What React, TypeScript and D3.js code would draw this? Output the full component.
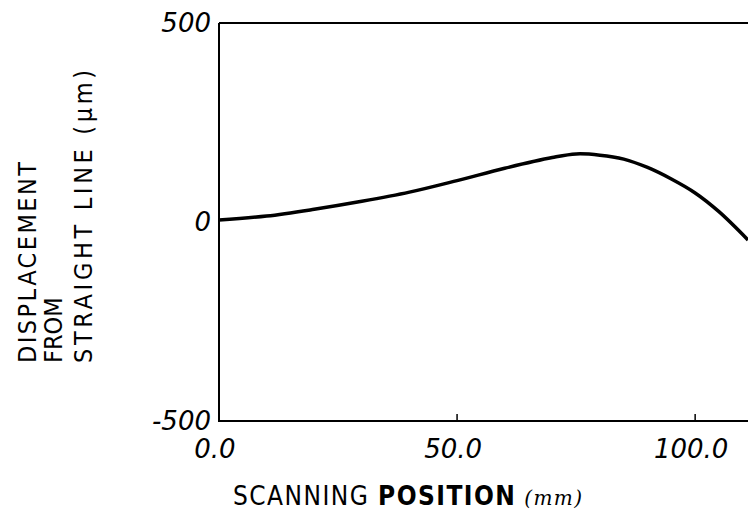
import React from "react";
import * as d3 from "d3";

const positions = [0, 10, 20, 30, 40, 50, 60, 70, 75, 80, 85, 90, 95, 100, 105, 111.1];
const displacement = [5, 15, 32, 52, 75, 104, 135, 162, 171, 168, 158, 137, 108, 73, 26, -45];
const xTicks = [0, 50, 100];
const xTickLabels = ["0.0", "50.0", "100.0"];
const yTicks = [500, 0, -500];
const yTickLabels = ["500", "0", "-500"];
const yTitleLines = ["DISPLACEMENT", "FROM", "STRAIGHT LINE (\u00b5m)"];
const xTitle = ["SCANNING ", "POSITION", " (mm)"];

const W = 748;
const H = 513;
const left = 219;
const top = 23;
const bottom = 421;

export default function App() {
  const x = d3.scaleLinear().domain([0, 111.1]).range([left, W]);
  const y = d3.scaleLinear().domain([-500, 500]).range([bottom, top]);
  const pts = positions.map((p, i) => [p, displacement[i]] as [number, number]);
  const line = d3
    .line<[number, number]>()
    .x((d) => x(d[0]))
    .y((d) => y(d[1]))
    .curve(d3.curveCatmullRom.alpha(0.5));

  const digitFont = "'DejaVu Sans', sans-serif";
  const labelFont = "'DejaVu Sans Condensed', 'DejaVu Sans', sans-serif";
  const yBaselines = [36, 62, 92];
  const yLens: (number | undefined)[] = [201, undefined, 293];

  return (
    <svg
      width={W}
      height={H}
      style={{ position: "absolute", left: 0, top: 0, background: "#fff" }}
    >
      <rect x={0} y={0} width={W} height={H} fill="#fff" />
      {/* frame */}
      <line x1={x(0)} y1={y(500)} x2={W} y2={y(500)} stroke="#000" strokeWidth={2} />
      <line x1={x(0)} y1={y(500)} x2={x(0)} y2={y(-500)} stroke="#000" strokeWidth={2} />
      <line x1={x(0) - 1} y1={y(-500)} x2={W} y2={y(-500)} stroke="#000" strokeWidth={2} />
      {/* x ticks */}
      {xTicks.map((t, i) => (
        <g key={"xt" + i}>
          {t !== 0 && (
            <line x1={x(t)} x2={x(t)} y1={y(-500)} y2={y(-500) - 7} stroke="#000" strokeWidth={1.5} />
          )}
          <text
            x={x(t) - 4}
            y={458}
            textAnchor="middle"
            fontFamily={digitFont}
            fontStyle="italic"
            fontSize={26}
            fill="#000"
          >
            {xTickLabels[i]}
          </text>
        </g>
      ))}
      {/* y tick labels */}
      {yTicks.map((t, i) => (
        <text
          key={"yt" + i}
          x={211}
          y={y(t) + 9}
          textAnchor="end"
          fontFamily={digitFont}
          fontStyle="italic"
          fontSize={26}
          fill="#000"
        >
          {yTickLabels[i]}
        </text>
      ))}
      {/* curve */}
      <path d={line(pts) || ""} fill="none" stroke="#000" strokeWidth={3.5} strokeLinejoin="round" />
      {/* y title */}
      {yTitleLines.map((s, i) => (
        <text
          key={"ytl" + i}
          transform={`translate(${yBaselines[i]},363) rotate(-90)`}
          fontFamily={labelFont}
          fontSize={25}
          textLength={yLens[i]}
          lengthAdjust={yLens[i] ? "spacing" : undefined}
          fill="#000"
        >
          {s}
        </text>
      ))}
      {/* x title */}
      <text x={233} y={505} fontFamily={labelFont} fontSize={26} fill="#000" textLength={349} lengthAdjust="spacing">
        <tspan>{xTitle[0]}</tspan>
        <tspan fontWeight="bold">{xTitle[1]}</tspan>
        <tspan fontFamily="'DejaVu Serif', serif" fontStyle="italic" fontSize={20}>{xTitle[2]}</tspan>
      </text>
    </svg>
  );
}
